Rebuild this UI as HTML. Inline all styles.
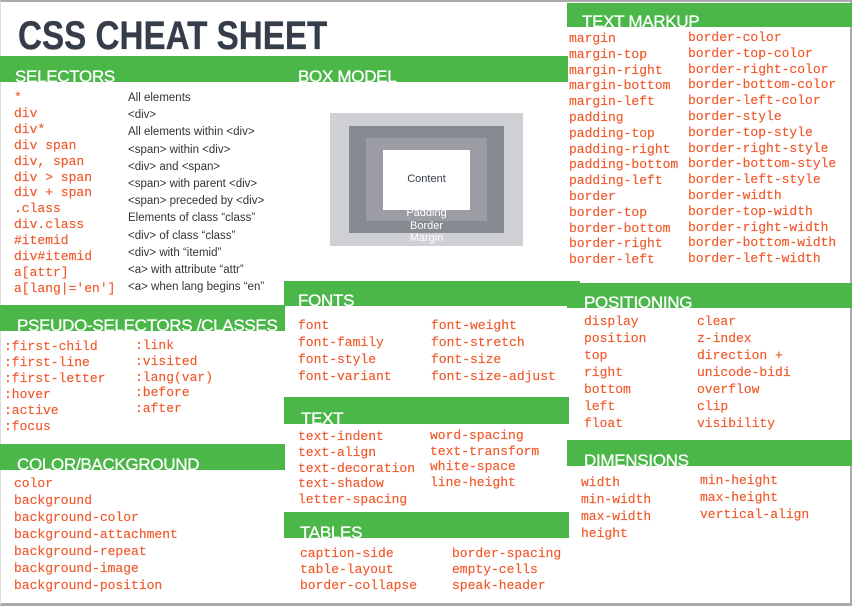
<!DOCTYPE html>
<html><head><meta charset="utf-8"><style>
body{margin:0;width:852px;height:606px;position:relative;overflow:hidden;background:#fff;font-family:"Liberation Sans",sans-serif}
.frame{position:absolute;left:0;top:0;width:849px;height:601px;border-top:2px solid #aaa;border-right:2px solid #aaa;border-bottom:3px solid #aaa;border-left:1px solid #ddd}
.bar{position:absolute;background:#4bb749;overflow:hidden}
.bar span{position:absolute;color:#fff;font-size:17px;line-height:17px;white-space:nowrap;letter-spacing:-0.3px;-webkit-text-stroke:0.3px #fff}
.m{position:absolute;font-family:"Liberation Mono",monospace;font-size:13px;color:#f0582a;white-space:pre;-webkit-text-stroke:0.15px #f0582a}
.d{position:absolute;font-size:11.5px;color:#333;white-space:pre}
.title{position:absolute;left:18px;top:14px;font-size:40px;font-weight:bold;color:#363d4a;transform:scaleX(0.83);transform-origin:left top;white-space:nowrap;line-height:44px;-webkit-text-stroke:0.3px #363d4a}
.r{position:absolute}
</style></head><body>
<div class="frame"></div>
<div class="title">CSS CHEAT SHEET</div>

<div class="bar" style="left:0;top:56px;width:568px;height:26px"><span style="left:15px;top:12px">SELECTORS</span><span style="left:298px;top:12px">BOX MODEL</span></div>
<div class="bar" style="left:567px;top:3px;width:285px;height:24px"><span style="left:15px;top:10px">TEXT MARKUP</span></div>
<div class="bar" style="left:0;top:305px;width:285px;height:26px"><span style="left:17px;top:12px">PSEUDO-SELECTORS /CLASSES</span></div>
<div class="bar" style="left:0;top:444px;width:285px;height:26px"><span style="left:17px;top:12px">COLOR/BACKGROUND</span></div>
<div class="bar" style="left:284px;top:281px;width:296px;height:25px"><span style="left:14px;top:11px">FONTS</span></div>
<div class="bar" style="left:567px;top:283px;width:285px;height:25px"><span style="left:17px;top:11px">POSITIONING</span></div>
<div class="bar" style="left:284px;top:397px;width:285px;height:27px"><span style="left:17px;top:13px">TEXT</span></div>
<div class="bar" style="left:567px;top:440px;width:285px;height:26px"><span style="left:17px;top:12px">DIMENSIONS</span></div>
<div class="bar" style="left:284px;top:512px;width:285px;height:26px"><span style="left:16px;top:12px">TABLES</span></div>

<div class="m" style="left:14px;top:90px;line-height:15.9px">*
div
div*
div span
div, span
div &gt; span
div + span
.class
div.class
#itemid
div#itemid
a[attr]
a[lang|='en']</div>
<div class="d" style="left:128px;top:90px;line-height:17.2px">All elements
&lt;div&gt;
All elements within &lt;div&gt;
&lt;span&gt; within &lt;div&gt;
&lt;div&gt; and &lt;span&gt;
&lt;span&gt; with parent &lt;div&gt;
&lt;span&gt; preceded by &lt;div&gt;
Elements of class “class”
&lt;div&gt; of class “class”
&lt;div&gt; with “itemid”
&lt;a&gt; with attribute “attr”
&lt;a&gt; when lang begins “en”</div>

<div class="r" style="left:330px;top:113px;width:193px;height:133px;background:#cfd0d3"></div>
<div class="r" style="left:349px;top:126px;width:155px;height:107px;background:#868a91"></div>
<div class="r" style="left:366px;top:138px;width:121px;height:83px;background:#9c9da4"></div>
<div class="r" style="left:383px;top:150px;width:87px;height:60px;background:#fff"></div>
<div class="d" style="left:383px;top:173px;width:87px;text-align:center;color:#363d4a;font-size:11px">Content</div>
<div class="d" style="left:366px;top:207px;width:121px;text-align:center;color:#fff;font-size:11px;line-height:12.5px">Padding
Border
Margin</div>

<div class="m" style="left:569px;top:31px;line-height:15.8px">margin
margin-top
margin-right
margin-bottom
margin-left
padding
padding-top
padding-right
padding-bottom
padding-left
border
border-top
border-bottom
border-right
border-left</div>
<div class="m" style="left:688px;top:30px;line-height:15.8px">border-color
border-top-color
border-right-color
border-bottom-color
border-left-color
border-style
border-top-style
border-right-style
border-bottom-style
border-left-style
border-width
border-top-width
border-right-width
border-bottom-width
border-left-width</div>

<div class="m" style="left:4px;top:339px;line-height:15.9px">:first-child
:first-line
:first-letter
:hover
:active
:focus</div>
<div class="m" style="left:135px;top:338px;line-height:15.8px">:link
:visited
:lang(var)
:before
:after</div>

<div class="m" style="left:14px;top:475px;line-height:17px">color
background
background-color
background-attachment
background-repeat
background-image
background-position</div>

<div class="m" style="left:298px;top:317px;line-height:17px">font
font-family
font-style
font-variant</div>
<div class="m" style="left:431px;top:317px;line-height:17px">font-weight
font-stretch
font-size
font-size-adjust</div>

<div class="m" style="left:584px;top:313px;line-height:17px">display
position
top
right
bottom
left
float</div>
<div class="m" style="left:697px;top:313px;line-height:17px">clear
z-index
direction +
unicode-bidi
overflow
clip
visibility</div>

<div class="m" style="left:298px;top:429px;line-height:15.8px">text-indent
text-align
text-decoration
text-shadow
letter-spacing</div>
<div class="m" style="left:430px;top:428px;line-height:15.7px">word-spacing
text-transform
white-space
line-height</div>

<div class="m" style="left:581px;top:474px;line-height:17px">width
min-width
max-width
height</div>
<div class="m" style="left:700px;top:472px;line-height:17px">min-height
max-height
vertical-align</div>

<div class="m" style="left:300px;top:546px;line-height:16px">caption-side
table-layout
border-collapse</div>
<div class="m" style="left:452px;top:546px;line-height:16px">border-spacing
empty-cells
speak-header</div>
</body></html>
